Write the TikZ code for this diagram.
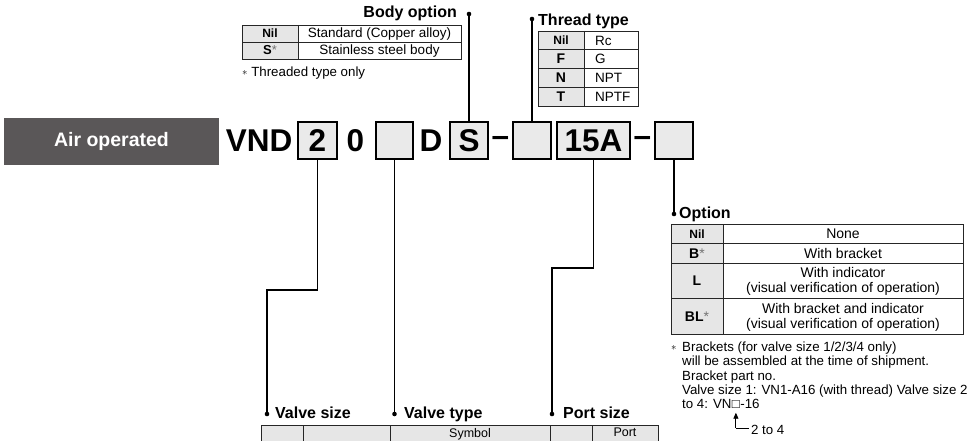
\documentclass[tikz,border=0pt]{standalone}
\usepackage{fontspec}
\usepackage{graphicx}
\setmainfont{Liberation Sans}
\usetikzlibrary{arrows.meta,calc}
\definecolor{darkbox}{HTML}{5A5758}
\definecolor{cellgrey}{HTML}{E6E6E6}
\definecolor{boxgrey}{HTML}{EAEAEA}
\newcommand{\fnast}{\raisebox{0.15ex}{\scalebox{0.75}{$\ast$}}}
\newcommand{\supast}{{\mdseries\color{black!55}*}}
\begin{document}
\begin{tikzpicture}[x=1pt,y=-1pt,
  conn/.style={line width=1.2pt},
  tbl/.style={line width=0.9pt, draw=black!85},
  dot/.style={circle, fill=black, inner sep=0pt, minimum size=4.6pt},
  heading/.style={font=\fontsize{16}{16}\selectfont\bfseries, inner sep=0pt},
  codebox/.style={draw=black, line width=1.2pt, fill=boxgrey, minimum height=37pt, inner sep=0pt, font=\fontsize{31.5}{31.5}\selectfont\bfseries},
  codechar/.style={inner sep=0pt, font=\fontsize{31.5}{31.5}\selectfont\bfseries},
  txt/.style={inner sep=0pt, font=\fontsize{13.3}{14}\selectfont},
  valtxt/.style={inner sep=0pt, font=\fontsize{14}{14}\selectfont},
  keytxt/.style={inner sep=0pt, font=\fontsize{14}{14}\selectfont\bfseries},
  nilkey/.style={inner sep=0pt, font=\fontsize{12}{12}\selectfont\bfseries},
]
\useasboundingbox (0,0) rectangle (972,441);

% ---------- code row ----------
\node[fill=darkbox, minimum width=215pt, minimum height=47pt, inner sep=0pt,
      text=white, font=\fontsize{19.5}{19.5}\selectfont\bfseries] (air) at (111.5,141.5) {Air operated};
\node[codechar, anchor=east] (vnd) at (292.5,141) {VND};
\node[codebox, minimum width=39pt] (b2) at (317.5,140.5) {2};
\node[codechar] (zero) at (355.5,141) {0};
\node[codebox, minimum width=37pt] (btype) at (394.5,140.5) {};
\node[codechar] (dchar) at (431,141) {D};
\node[codebox, minimum width=38pt] (bS) at (469,140.5) {S};
\node[codechar] (dash1) at (500.5,141) {–};
\node[codebox, minimum width=38pt] (bthr) at (532,140.5) {};
\node[codebox, minimum width=73pt] (b15A) at (593.5,140.5) {15A};
\node[codechar] (dash2) at (642.5,141) {–};
\node[codebox, minimum width=38pt] (bopt) at (674,140.5) {};

% ---------- Body option ----------
\node[heading, anchor=base east] (hbody) at (457,18) {Body option};
\node[dot] (dbody) at (469,14) {};
\fill[cellgrey] (242,25) rectangle (298,59);
\draw[tbl] (242,25) rectangle (461,59) (242,42) -- (461,42) (298,25) -- (298,59);
\node[nilkey, anchor=base] (bok1) at (270,37.8) {Nil};
\node[valtxt, font=\fontsize{13.5}{14}\selectfont, anchor=base] (bov1) at (379.5,38) {Standard (Copper alloy)};
\node[keytxt, font=\fontsize{13}{14}\selectfont\bfseries, anchor=base] (bok2) at (270,55) {S\supast};
\node[valtxt, font=\fontsize{13.5}{14}\selectfont, anchor=base] (bov2) at (379.5,55) {Stainless steel body};
\node[txt, anchor=base west] (bonote) at (242,76.5) {\fnast\ Threaded type only};

% ---------- Thread type ----------
\node[heading, anchor=base west] (hthr) at (538,26) {Thread type};
\node[dot] (dthr) at (532,19) {};
\fill[cellgrey] (538,31) rectangle (584,106);
\draw[tbl] (538,31) rectangle (638,106) (538,49.75) -- (638,49.75) (538,68.5) -- (638,68.5)
  (538,87.25) -- (638,87.25) (584,31) -- (584,106);
\node[nilkey, anchor=base] (tk1) at (561,45) {Nil};
\node[keytxt, anchor=base] (tk2) at (561,63.9) {F};
\node[keytxt, anchor=base] (tk3) at (561,82.7) {N};
\node[keytxt, anchor=base] (tk4) at (561,101.4) {T};
\node[valtxt, font=\fontsize{13.5}{14}\selectfont, anchor=base west] (tv1) at (595,45.2) {Rc};
\node[valtxt, font=\fontsize{13.5}{14}\selectfont, anchor=base west] (tv2) at (595,63.9) {G};
\node[valtxt, font=\fontsize{13.5}{14}\selectfont, anchor=base west] (tv3) at (595,82.7) {NPT};
\node[valtxt, font=\fontsize{13.5}{14}\selectfont, anchor=base west] (tv4) at (595,101.4) {NPTF};

% ---------- Option ----------
\node[heading, anchor=base west] (hopt) at (679,218) {Option};
\node[dot] (dopt) at (674,214) {};
\fill[cellgrey] (671,224) rectangle (723,334);
\draw[tbl] (671,224) rectangle (963,334) (671,243) -- (963,243) (671,263) -- (963,263)
  (671,298) -- (963,298) (723,224) -- (723,334);
\node[nilkey, anchor=base] (ok1) at (697,238) {Nil};
\node[valtxt, anchor=base] (ov1) at (843,238.5) {None};
\node[keytxt, anchor=base] (ok2) at (697,258) {B\supast};
\node[valtxt, anchor=base] (ov2) at (843,258) {With bracket};
\node[keytxt, anchor=base] (ok3) at (697,285.5) {L};
\node[valtxt, anchor=base] (ov3a) at (843,277.5) {With indicator};
\node[valtxt, anchor=base] (ov3b) at (843,292) {(visual verification of operation)};
\node[keytxt, anchor=base] (ok4) at (697,321) {BL\supast};
\node[valtxt, anchor=base] (ov4a) at (843,313.5) {With bracket and indicator};
\node[valtxt, anchor=base] (ov4b) at (843,328) {(visual verification of operation)};

% footnote
\node[txt, anchor=base west] (fa) at (671,351.5) {\fnast};
\node[txt, anchor=base west] (f1) at (682,351.5) {Brackets (for valve size 1/2/3/4 only)};
\node[txt, anchor=base west] (f2) at (682,365.75) {will be assembled at the time of shipment.};
\node[txt, anchor=base west] (f3) at (682,380) {Bracket part no.};
\node[txt, anchor=base west] (f4) at (682,394.25) {Valve size 1: VN1-A16 (with thread) Valve size 2};
\node[txt, anchor=base west] (f5a) at (682,408.5) {to 4: VN};
\node[txt, anchor=base west] (sq) at (f5a.base east) {□};
\node[txt, anchor=base west] (f5b) at (sq.base east) {-16};
\coordinate (lv) at (0,428);
\coordinate (corner) at (sq.south |- lv);
\draw[line width=0.9pt, -{Triangle[length=6pt,width=5pt]}] (corner) -- ($(sq.south)+(0,4)$);
\draw[line width=0.9pt] (corner) -- ++(13,0) coordinate (cend);
\node[txt, anchor=west] (two4) at ($(cend)+(2,1.5)$) {2 to 4};

% ---------- bottom headings ----------
\node[heading, anchor=base west] (hvs) at (275,418) {Valve size};
\node[dot] (dvs) at (267,414) {};
\node[heading, anchor=base west] (hvt) at (404,418) {Valve type};
\node[dot] (dvt) at (394.5,414) {};
\node[heading, anchor=base west] (hps) at (563,418) {Port size};
\node[dot] (dps) at (552,414) {};
\coordinate (kvs) at (267,290);
\coordinate (kps) at (552,268);

% ---------- connectors ----------
\draw[conn] (bS.north) -- (dbody);
\draw[conn] (bthr.north) -- (dthr);
\draw[conn] (bopt.south) -- (dopt);
\draw[conn] (b2.south) |- (kvs) -- (dvs);
\draw[conn] (btype.south) -- (dvt);
\draw[conn] (b15A.south) |- (kps) -- (dps);

% ---------- bottom table (cut off) ----------
\begin{scope}
\clip (0,0) rectangle (972,441);
\fill[cellgrey] (261,425) rectangle (658,470);
\draw[tbl] (261,470) -- (261,425) -- (658,425) -- (658,470)
  (303,425) -- (303,470) (390,425) -- (390,470) (550,425) -- (550,470) (592,425) -- (592,470);
\node[txt, font=\fontsize{12.5}{13}\selectfont, anchor=base] (sym) at (470,437.5) {Symbol};
\node[txt, font=\fontsize{12.5}{13}\selectfont, anchor=base] (port) at (625,436) {Port};
\end{scope}
\end{tikzpicture}
\end{document}
